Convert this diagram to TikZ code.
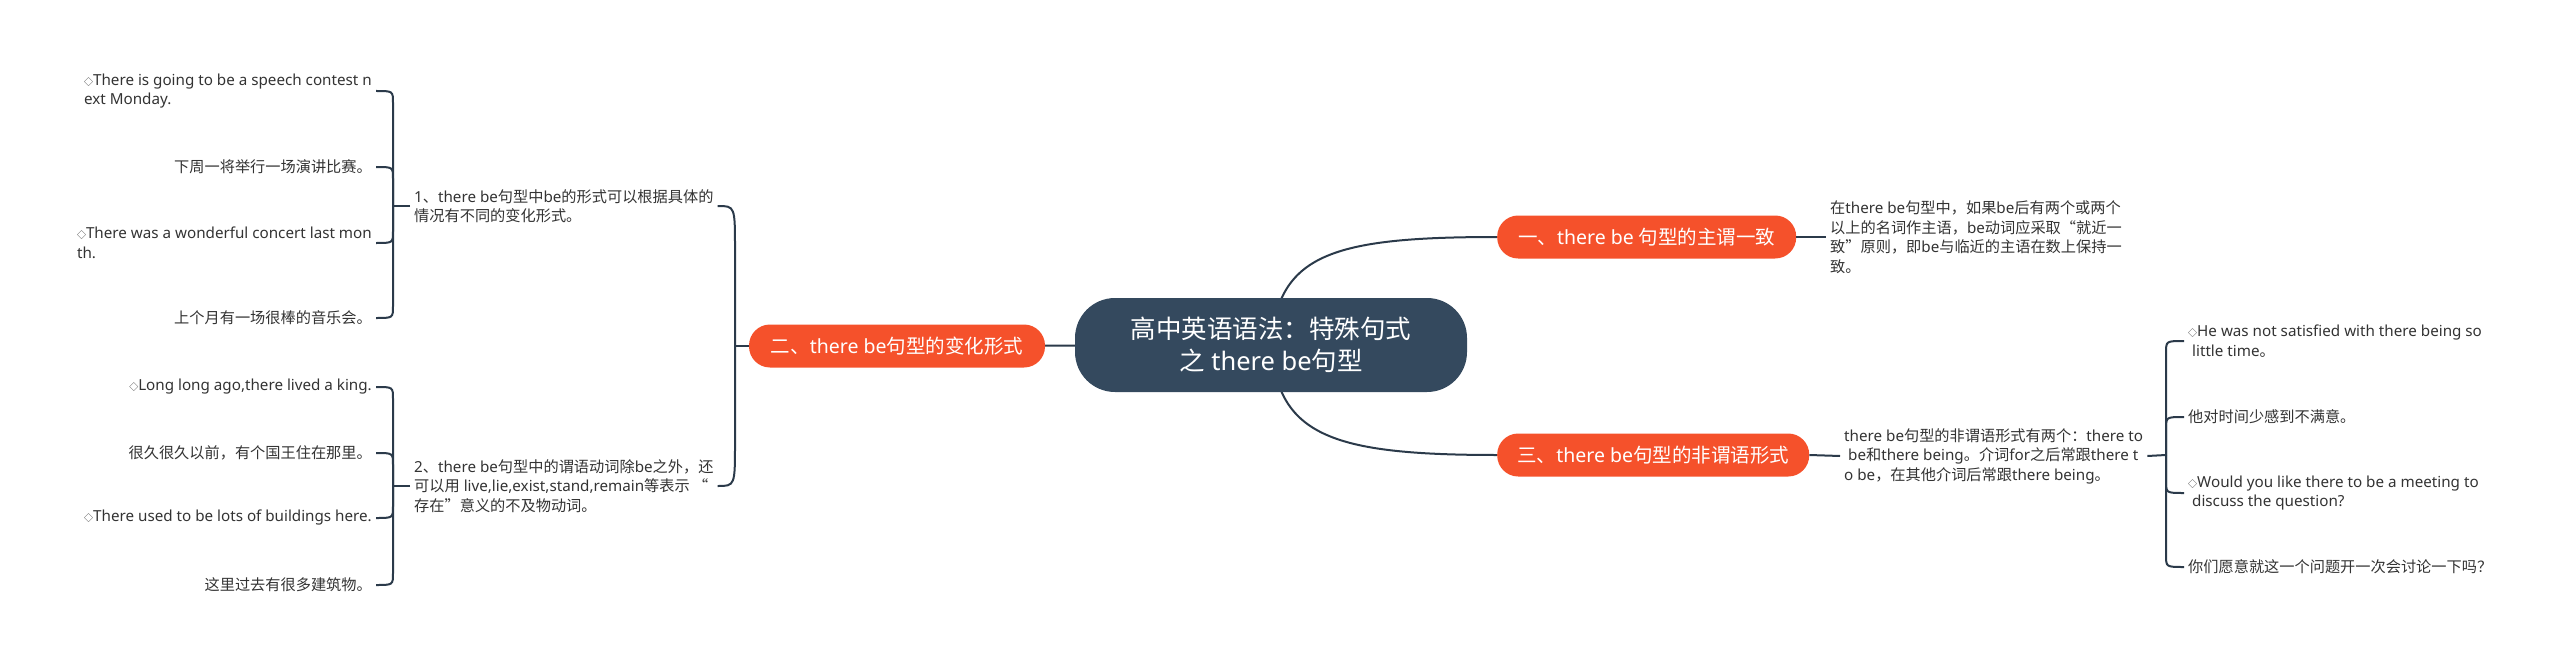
\documentclass[tikz,border=0pt]{standalone}
\usepackage{fontspec}
\setmainfont{Noto Sans CJK SC}
\newfontfamily\enfont{Noto Sans}
\usepackage{tikz}
\usetikzlibrary{calc,backgrounds}

\definecolor{rootfill}{HTML}{34495E}
\definecolor{topicfill}{HTML}{F5512B}
\definecolor{linkcol}{HTML}{2B3A4A}
\definecolor{leaftext}{HTML}{333333}
\newcommand\dmd{{\fontsize{9}{9}\selectfont ◇}}
\newcommand\en[1]{{\enfont #1}}

\begin{document}
\begin{tikzpicture}[x=1pt, y=-1pt,
    root/.style={fill=rootfill, text=white, rounded corners=40pt, minimum width=392pt, minimum height=94pt, align=center, font=\fontsize{25.5}{32}\selectfont},
    topic/.style={fill=topicfill, text=white, rounded corners=21pt, minimum height=43pt, inner xsep=0pt, font=\fontsize{19.5}{24}\selectfont},
    leaf/.style={text=leaftext, align=left, inner sep=4pt, font=\fontsize{15.2}{19.5}\selectfont},
    link/.style={draw=linkcol, line width=2pt}
]
\useasboundingbox (0,0) rectangle (2560,666);

% centre and main topics
\node[root] (root) at (1271,345) {高中英语语法：特殊句式\\之\en{ there be}句型};
\node[topic, minimum width=296pt] (t2) at (897,346) {二、\en{there be}句型的变化形式};
\node[topic, minimum width=299pt, anchor=west] (t1) at (1497,237) {一、\en{there be }句型的主谓一致};
\node[topic, minimum width=312pt, anchor=west] (t3) at (1497,455) {三、\en{there be}句型的非谓语形式};

% right side
\node[leaf, anchor=west] (d1) at (1826,237) {在\en{there be}句型中，如果\en{be}后有两个或两个\\以上的名词作主语，\en{be}动词应采取“就近一\\致”原则，即\en{be}与临近的主语在数上保持一\\致。};
\node[leaf, anchor=west] (d3) at (1840,456) {\en{there be}句型的非谓语形式有两个：\en{there to}\\\en{\ be}和\en{there being}。介词\en{for}之后常跟\en{there t}\\\en{o be}，在其他介词后常跟\en{there being}。};
\node[leaf, anchor=west] (r1) at (2184,341) {\dmd\en{He was not satisfied with there being so}\\\en{\ little time}。};
\node[leaf, anchor=west] (r2) at (2184,417) {他对时间少感到不满意。};
\node[leaf, anchor=west] (r3) at (2184,493) {\dmd\en{Would you like there to be a meeting to}\\\en{\ discuss the question?}};
\node[leaf, anchor=west] (r4) at (2184,567) {你们愿意就这一个问题开一次会讨论一下吗？};

% left side
\node[leaf, anchor=west] (m1) at (410,206) {\en{1}、\en{there be}句型中\en{be}的形式可以根据具体的\\情况有不同的变化形式。};
\node[leaf, anchor=west] (m2) at (410,486) {\en{2}、\en{there be}句型中的谓语动词除\en{be}之外，还\\可以用\en{ live,lie,exist,stand,remain}等表示 “\\存在”意义的不及物动词。};
\node[leaf, anchor=east] (l1) at (376,91) {\dmd\en{There is going to be a speech contest n}\\\en{ext Monday.}};
\node[leaf, anchor=east] (l2) at (376,167) {下周一将举行一场演讲比赛。};
\node[leaf, anchor=east] (l3) at (376,243) {\dmd\en{There was a wonderful concert last mon}\\\en{th.}};
\node[leaf, anchor=east] (l4) at (376,318) {上个月有一场很棒的音乐会。};
\node[leaf, anchor=east] (l5) at (376,387) {\dmd\en{Long long ago,there lived a king.}};
\node[leaf, anchor=east] (l6) at (376,453) {很久很久以前，有个国王住在那里。};
\node[leaf, anchor=east] (l7) at (376,518) {\dmd\en{There used to be lots of buildings here.}};
\node[leaf, anchor=east] (l8) at (376,585) {这里过去有很多建筑物。};

\coordinate (s2) at (735,346);
\coordinate (s11) at (393,206);
\coordinate (s12) at (393,486);
\coordinate (s3) at (2166,455);

\begin{scope}[on background layer]
\draw[link] (root.center) .. controls (1278,255) and (1330,237) .. (t1.west);
\draw[link] (root.center) .. controls (1278,435) and (1330,455) .. (t3.west);
\draw[link] (root.center) -- (t2.center);
\end{scope}

\draw[link] (t1.east) -- (d1.west);
\draw[link] (t3.east) -- (d3.west);

% brackets
\draw[link] (t2.west) -- (s2);
\draw[link] (s2) -- ($(s2 |- m1.east)+(0,44)$) .. controls (s2 |- m1.east) .. (m1.east);
\draw[link] (s2) -- ($(s2 |- m2.east)+(0,-44)$) .. controls (s2 |- m2.east) .. (m2.east);

\draw[link] (m1.west) -- (s11);
\foreach \kid/\off in {l1/12,l2/12,l3/-12,l4/-12}
    \draw[link] (s11) -- ($(s11 |- \kid.east)+(0,\off)$) .. controls (s11 |- \kid.east) .. (\kid.east);

\draw[link] (m2.west) -- (s12);
\foreach \kid/\off in {l5/12,l6/12,l7/-12,l8/-12}
    \draw[link] (s12) -- ($(s12 |- \kid.east)+(0,\off)$) .. controls (s12 |- \kid.east) .. (\kid.east);

\draw[link] (d3.east) -- (s3);
\foreach \kid/\off in {r1/12,r2/12,r3/-12,r4/-12}
    \draw[link] (s3) -- ($(s3 |- \kid.west)+(0,\off)$) .. controls (s3 |- \kid.west) .. (\kid.west);
\end{tikzpicture}
\end{document}
